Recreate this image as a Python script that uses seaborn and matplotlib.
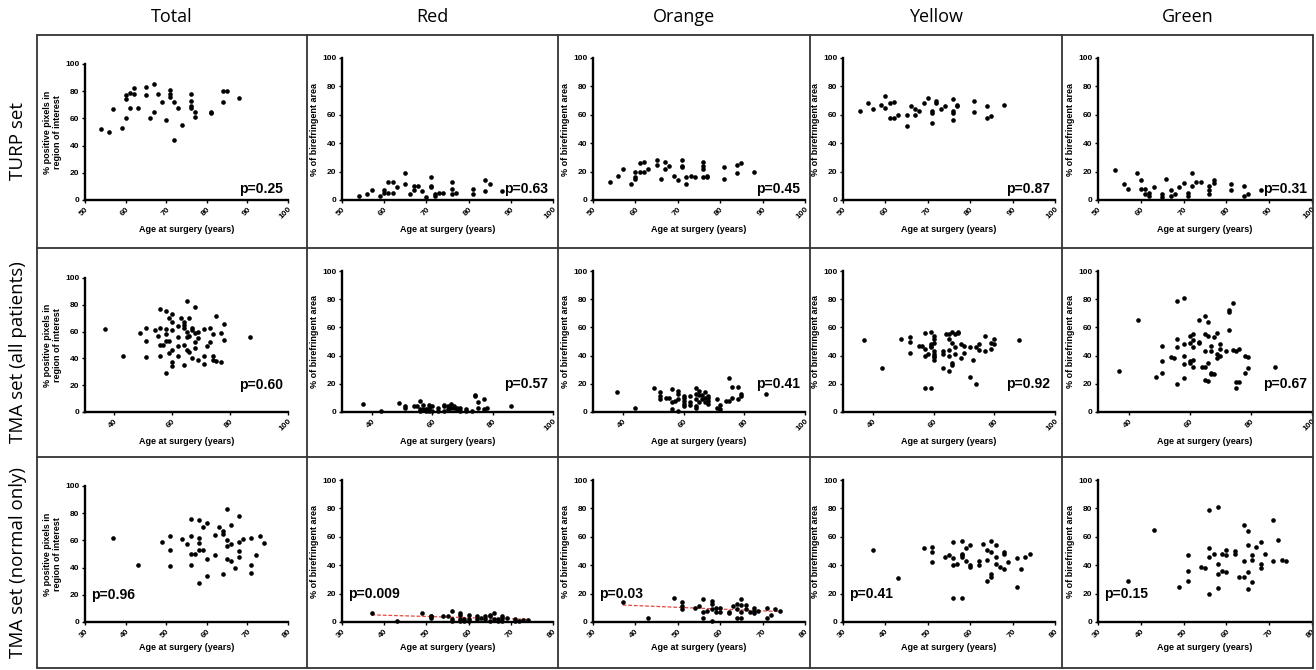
import numpy as np
import matplotlib
matplotlib.use('Agg')
import matplotlib.pyplot as plt
from matplotlib.lines import Line2D
import seaborn as sns

# column / row headings
col_titles = ['Total', 'Red', 'Orange', 'Yellow', 'Green']
row_titles = ['TURP set', 'TMA set (all patients)', 'TMA set (normal only)']
p_values = [['p=0.25', 'p=0.63', 'p=0.45', 'p=0.87', 'p=0.31'],
            ['p=0.60', 'p=0.57', 'p=0.41', 'p=0.92', 'p=0.67'],
            ['p=0.96', 'p=0.009', 'p=0.03', 'p=0.41', 'p=0.15']]
x_ticks = [[50, 60, 70, 80, 90, 100],
           [40, 60, 80, 100],
           [30, 40, 50, 60, 70, 80]]
y_ticks = [0, 20, 40, 60, 80, 100]

# (age, value) pairs
turp_total = [(54, 52), (56, 50), (57, 67), (59, 53), (60, 60), (60, 74), (60, 77), (61, 68), (61, 79), (62, 78),
              (62, 82), (63, 68), (65, 77), (65, 83), (66, 60), (67, 65), (67, 85), (68, 78), (69, 72), (70, 59),
              (71, 76), (71, 78), (71, 81), (72, 44), (72, 72), (73, 68), (74, 55), (76, 68), (76, 69), (76, 73),
              (76, 78), (77, 61), (77, 65), (81, 64), (81, 65), (84, 72), (84, 80), (85, 80), (88, 75)]
turp_red = [(54, 3), (56, 4), (57, 7), (59, 3), (60, 5), (60, 7), (61, 5), (61, 13), (62, 5), (62, 13), (63, 9),
            (65, 11), (65, 19), (66, 4), (67, 7), (67, 10), (68, 10), (69, 6), (70, 2), (71, 9), (71, 10), (71, 16),
            (72, 3), (72, 4), (73, 5), (74, 5), (76, 4), (76, 8), (76, 13), (77, 5), (81, 4), (81, 8), (84, 6),
            (84, 14), (85, 11), (88, 6)]
turp_orange = [(54, 13), (56, 17), (57, 22), (59, 11), (60, 15), (60, 16), (60, 20), (61, 20), (61, 26), (62, 20),
               (62, 27), (63, 22), (65, 25), (65, 28), (66, 15), (67, 22), (67, 27), (68, 24), (69, 17), (70, 14),
               (71, 23), (71, 24), (71, 28), (72, 11), (72, 16), (73, 17), (74, 16), (76, 16), (76, 22), (76, 24),
               (76, 27), (77, 16), (77, 17), (81, 15), (81, 23), (84, 19), (84, 25), (85, 26), (88, 20)]
turp_yellow = [(54, 63), (56, 68), (57, 64), (59, 67), (60, 65), (60, 73), (61, 58), (61, 68), (62, 58), (62, 69),
               (63, 60), (65, 52), (65, 60), (66, 66), (67, 60), (67, 64), (68, 63), (69, 68), (70, 72), (71, 54),
               (71, 61), (71, 63), (72, 68), (72, 70), (73, 64), (74, 66), (76, 56), (76, 61), (76, 63), (76, 71),
               (77, 66), (77, 67), (81, 62), (81, 70), (84, 58), (84, 66), (85, 59), (88, 67)]
turp_green = [(54, 21), (56, 11), (57, 8), (59, 19), (60, 8), (60, 14), (61, 4), (61, 8), (62, 3), (62, 5), (63, 9),
              (65, 2), (65, 4), (66, 15), (67, 3), (67, 7), (68, 4), (69, 9), (70, 12), (71, 3), (71, 5), (72, 10),
              (72, 19), (73, 13), (74, 13), (76, 4), (76, 7), (76, 10), (77, 12), (77, 14), (81, 7), (81, 11),
              (84, 3), (84, 10), (85, 4), (88, 7)]

tma_total = [(37, 62), (43, 42), (49, 59), (51, 63), (51, 53), (51, 41), (54, 61), (55, 57), (56, 77), (56, 63),
             (56, 50), (56, 42), (57, 50), (58, 75), (58, 62), (58, 58), (58, 53), (58, 29), (59, 70), (59, 53),
             (59, 44), (60, 73), (60, 67), (60, 61), (60, 46), (60, 37), (60, 34), (62, 64), (62, 56), (62, 49),
             (62, 42), (63, 70), (64, 67), (64, 65), (64, 63), (64, 50), (64, 35), (65, 83), (65, 60), (65, 56),
             (65, 46), (66, 70), (66, 57), (66, 45), (67, 63), (67, 61), (67, 40), (68, 78), (68, 59), (68, 52),
             (68, 48), (69, 60), (69, 55), (69, 39), (71, 62), (71, 42), (71, 36), (72, 49), (73, 63), (73, 52),
             (74, 58), (74, 42), (74, 39), (75, 72), (75, 38), (77, 59), (77, 37), (78, 66), (78, 54), (87, 56)]
tma_red = [(37, 6), (43, 0.5), (49, 6.5), (51, 4), (51, 3), (54, 4), (55, 4), (56, 8), (56, 2), (56, 1), (57, 5),
           (57, 2), (58, 1), (58, 2), (59, 2), (59, 3), (59, 5), (59, 1), (60, 1), (60, 4), (62, 3), (62, 1), (64, 5),
           (64, 4), (64, 1), (65, 4), (65, 2), (66, 6), (66, 3), (67, 3), (67, 4), (68, 2), (68, 3), (69, 1), (69, 3),
           (71, 1), (71, 2), (73, 1), (74, 12), (74, 11), (75, 7), (75, 3), (77, 9), (77, 2), (78, 3), (86, 4)]
tma_orange = [(38, 14), (44, 3), (50, 17), (52, 14), (52, 11), (52, 9), (54, 10), (55, 10), (56, 16), (56, 7),
              (56, 2), (57, 8), (58, 15), (58, 13), (58, 9), (58, 1), (60, 11), (60, 10), (60, 8), (60, 6), (60, 4),
              (62, 7), (62, 5), (62, 11), (64, 17), (64, 13), (64, 9), (64, 4), (64, 3), (65, 15), (65, 12), (65, 7),
              (66, 12), (66, 9), (67, 14), (67, 10), (67, 7), (68, 11), (68, 10), (68, 8), (68, 6), (71, 9), (71, 3),
              (72, 5), (72, 2), (74, 8), (75, 24), (75, 8), (76, 18), (76, 10), (78, 18), (78, 9), (79, 13),
              (79, 11), (87, 13)]
tma_yellow = [(37, 51), (43, 31), (49, 52), (52, 53), (52, 50), (52, 42), (55, 47), (56, 47), (57, 56), (57, 45),
              (57, 40), (57, 17), (58, 41), (59, 57), (59, 48), (59, 47), (59, 46), (59, 17), (60, 54), (60, 52),
              (60, 49), (60, 43), (60, 41), (60, 40), (60, 39), (60, 37), (63, 43), (63, 41), (63, 31), (64, 55),
              (65, 55), (65, 52), (65, 44), (65, 40), (65, 29), (66, 57), (66, 49), (66, 35), (66, 33), (67, 55),
              (67, 46), (67, 41), (68, 57), (68, 56), (69, 48), (69, 38), (70, 47), (70, 42), (72, 46), (72, 25),
              (73, 37), (74, 46), (74, 20), (75, 48), (75, 44), (77, 54), (77, 43), (79, 49), (79, 45), (80, 52),
              (80, 48), (88, 51)]
tma_green = [(37, 29), (43, 65), (49, 25), (51, 47), (51, 36), (51, 28), (54, 39), (55, 38), (56, 79), (56, 52),
             (56, 46), (56, 20), (58, 48), (58, 81), (58, 40), (58, 34), (58, 24), (60, 54), (60, 49), (60, 36),
             (60, 35), (61, 55), (61, 51), (61, 46), (61, 37), (61, 32), (63, 65), (63, 50), (63, 49), (64, 32),
             (65, 68), (65, 55), (65, 43), (65, 32), (65, 23), (66, 64), (66, 54), (66, 35), (66, 22), (67, 47),
             (67, 43), (67, 28), (67, 27), (68, 53), (68, 27), (69, 56), (69, 41), (69, 38), (70, 48), (70, 45),
             (70, 40), (72, 43), (73, 72), (73, 71), (73, 58), (74, 77), (74, 44), (75, 43), (75, 21), (75, 17),
             (76, 45), (76, 21), (78, 40), (78, 28), (79, 39), (79, 31), (88, 32)]

norm_total = [(37, 62), (43, 42), (49, 59), (51, 63), (51, 53), (51, 41), (54, 61), (55, 57), (56, 76), (56, 63),
              (56, 50), (56, 42), (57, 50), (58, 75), (58, 62), (58, 58), (58, 53), (58, 29), (59, 70), (59, 53),
              (60, 73), (60, 46), (60, 34), (62, 64), (62, 49), (63, 70), (64, 67), (64, 65), (64, 35), (65, 83),
              (65, 60), (65, 56), (65, 46), (66, 71), (66, 57), (66, 45), (67, 40), (68, 78), (68, 59), (68, 52),
              (68, 48), (69, 61), (71, 62), (71, 42), (71, 36), (72, 49), (73, 63), (74, 58)]
norm_red = [(37, 6), (43, 0.5), (49, 6.5), (51, 4), (51, 3), (51, 4.5), (54, 4), (55, 4), (56, 8), (56, 2), (56, 1),
            (58, 6), (58, 5), (58, 2), (58, 1), (59, 2), (59, 1), (60, 5), (60, 2), (60, 1), (62, 4), (62, 2),
            (63, 3), (64, 4), (64, 2), (65, 5), (65, 4), (65, 1), (66, 6), (66, 2), (67, 2), (67, 1), (68, 4),
            (68, 3), (68, 1), (69, 2.5), (71, 2), (71, 1), (72, 1), (73, 1.5), (74, 1.5)]
norm_orange = [(37, 14), (43, 3), (49, 17), (51, 14), (51, 11), (51, 9), (54, 10), (55, 11), (56, 16), (56, 7),
               (56, 3), (57, 8), (58, 15), (58, 13), (58, 9), (58, 1), (59, 10), (59, 7), (60, 10), (60, 7), (62, 7),
               (62, 6), (63, 11), (64, 13), (64, 9), (64, 3), (65, 16), (65, 12), (65, 7), (65, 3), (66, 12), (66, 9),
               (67, 7), (68, 10), (68, 8), (68, 6), (69, 8), (71, 10), (71, 3), (72, 5), (73, 9), (74, 8)]
norm_yellow = [(37, 51), (43, 31), (49, 52), (51, 53), (51, 49), (51, 42), (54, 46), (55, 47), (56, 56), (56, 45),
               (56, 40), (56, 17), (57, 41), (58, 57), (58, 48), (58, 47), (58, 46), (58, 17), (59, 52), (59, 43),
               (60, 54), (60, 40), (60, 39), (62, 43), (62, 40), (63, 55), (64, 51), (64, 44), (64, 29), (65, 57),
               (65, 49), (65, 34), (65, 32), (66, 54), (66, 46), (66, 41), (67, 39), (68, 49), (68, 48), (68, 37),
               (69, 42), (71, 45), (71, 25), (72, 37), (73, 46), (74, 48)]
norm_green = [(37, 29), (43, 65), (49, 25), (51, 47), (51, 36), (51, 29), (54, 39), (55, 38), (56, 79), (56, 52),
              (56, 46), (56, 20), (57, 48), (58, 81), (58, 41), (58, 34), (58, 24), (59, 48), (59, 36), (60, 51),
              (60, 47), (60, 35), (62, 50), (62, 48), (63, 32), (64, 68), (64, 43), (64, 32), (65, 64), (65, 54),
              (65, 35), (65, 23), (66, 47), (66, 44), (66, 28), (67, 53), (68, 56), (68, 41), (68, 38), (69, 48),
              (71, 72), (71, 43), (72, 58), (73, 44), (74, 43)]

panels = [[turp_total, turp_red, turp_orange, turp_yellow, turp_green],
          [tma_total, tma_red, tma_orange, tma_yellow, tma_green],
          [norm_total, norm_red, norm_orange, norm_yellow, norm_green]]
# panels with a significant trend get the dashed regression line
fit_lines = {(2, 1), (2, 2)}

sns.set_style('ticks')
plt.rcParams['font.family'] = ['Liberation Sans', 'DejaVu Sans']
for key in ['text.color', 'axes.labelcolor', 'xtick.color', 'ytick.color', 'axes.edgecolor']:
    plt.rcParams[key] = 'black'

W, H = 1316, 670
fig = plt.figure(figsize=(W / 100, H / 100), dpi=100)

# pixel layout of the grid
col_lines = [37, 307, 558, 810, 1062, 1313]
row_lines = [35, 248, 457, 668]
ax_cols = [(85, 288), (342, 553), (593, 805), (843, 1055), (1098, 1312)]
ax_rows = [(64, 58, 200), (278, 271, 412), (486, 480, 622)]

for r in range(3):
    for c in range(5):
        left, right = ax_cols[c]
        top_total, top_other, bottom = ax_rows[r]
        top = top_total if c == 0 else top_other
        ax = fig.add_axes([left / W, 1 - bottom / H, (right - left) / W, (bottom - top) / H])
        pts = panels[r][c]
        xs = [p[0] for p in pts]
        ys = [p[1] for p in pts]
        sns.scatterplot(x=xs, y=ys, ax=ax, color='black', s=11, linewidth=0, clip_on=False, zorder=3)
        if (r, c) in fit_lines:
            sns.regplot(x=xs, y=ys, ax=ax, scatter=False, ci=None,
                        line_kws=dict(color='#e8473f', ls='--', lw=0.9, dashes=(3, 1.5)))
        xt = x_ticks[r]
        ax.set_xlim(xt[0] if r != 1 else 30, xt[-1])
        ax.set_ylim(0, 100)
        ax.set_xticks(xt)
        ax.set_yticks(y_ticks)
        ax.set_xticklabels([str(t) for t in xt], rotation=45, ha='right', rotation_mode='anchor',
                           fontsize=6, fontweight='bold')
        ax.set_yticklabels([str(t) for t in y_ticks], fontsize=6, fontweight='bold')
        ax.tick_params(direction='out', length=2.5, width=1, pad=1.5)
        sns.despine(ax=ax)
        for side in ['left', 'bottom']:
            ax.spines[side].set_linewidth(1.7)
        ax.set_xlabel('Age at surgery (years)', fontsize=6.5, fontweight='bold', labelpad=3)
        if c == 0:
            ax.set_ylabel('% positive pixels in\nregion of interest', fontsize=6.5, fontweight='bold', labelpad=2)
        else:
            ax.set_ylabel('% of birefringent area', fontsize=6.5, fontweight='bold', labelpad=2)
        if r == 0:
            ax.text(0.975, 0.03, p_values[r][c], transform=ax.transAxes, ha='right', va='bottom',
                    fontsize=10, fontweight='bold')
        elif r == 1:
            ax.text(0.975, 0.15, p_values[r][c], transform=ax.transAxes, ha='right', va='bottom',
                    fontsize=10, fontweight='bold')
        else:
            ax.text(0.03, 0.15, p_values[r][c], transform=ax.transAxes, ha='left', va='bottom',
                    fontsize=10, fontweight='bold')

# grid frame
for x in col_lines:
    fig.add_artist(Line2D([x / W, x / W], [1 - row_lines[0] / H, 1 - row_lines[-1] / H],
                          transform=fig.transFigure, color='#333333', lw=1.3))
for y in row_lines:
    fig.add_artist(Line2D([col_lines[0] / W, col_lines[-1] / W], [1 - y / H, 1 - y / H],
                          transform=fig.transFigure, color='#333333', lw=1.3))

for c, title in enumerate(col_titles):
    cx = (col_lines[c] + col_lines[c + 1]) / 2
    fig.text(cx / W, 1 - 17 / H, title, ha='center', va='center', fontsize=13, family='Open Sans')
for r, title in enumerate(row_titles):
    cy = (row_lines[r] + row_lines[r + 1]) / 2
    fig.text(18 / W, 1 - cy / H, title, ha='center', va='center', rotation=90, fontsize=13.5,
             family='Open Sans')

fig.savefig('out.png', dpi=100, facecolor='white')
